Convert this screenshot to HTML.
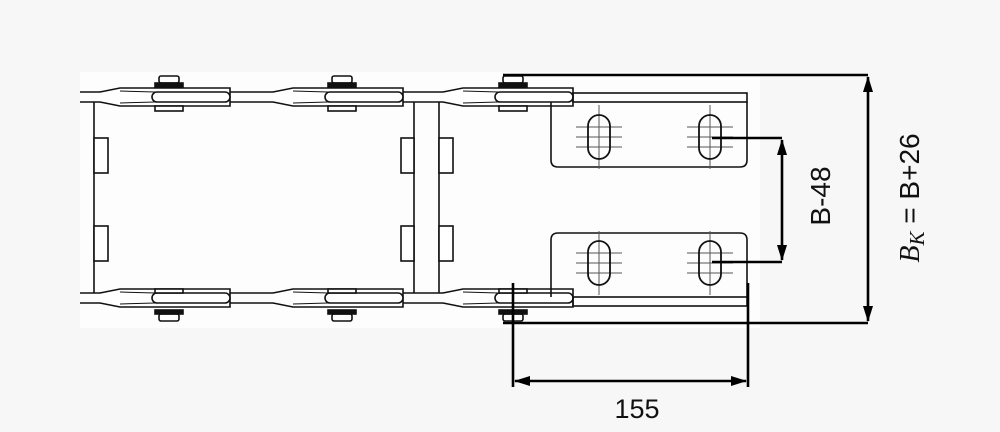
<!DOCTYPE html>
<html><head><meta charset="utf-8"><style>
html,body{margin:0;padding:0;background:#f7f7f7;}
svg{display:block;}
text{font-family:"Liberation Sans","DejaVu Sans",sans-serif;fill:#111;}
</style></head><body>
<svg width="1000" height="432" viewBox="0 0 1000 432" xmlns="http://www.w3.org/2000/svg">
<defs>
<g id="link" fill="none" stroke="#111" stroke-width="1.6">
  <path d="M0,-5 L20,-9 L130,-9 L130,9 L20,9 L0,5" fill="#fff"/>
  <path d="M20,-6 L55,-5 M20,6 L55,5" stroke-width="1"/>
  <rect x="52" y="-5" width="78" height="10" rx="5" fill="#fff"/>
</g>
<g id="slot" fill="none" stroke="#111">
  <path d="M-23,-10 H23 M-23,0 H23 M-23,10 H23 M0,-32 V32" stroke="#555" stroke-width="1"/>
  <rect x="-11" y="-22" width="22" height="44" rx="11" stroke-width="1.8" fill="none"/>
</g>
</defs>
<rect x="80" y="72" width="680" height="256" fill="#fdfdfd"/>
<g stroke="#111" fill="none" stroke-width="1.6">
  <line x1="80" y1="92" x2="573" y2="92"/><line x1="80" y1="102" x2="573" y2="102"/>
  <line x1="80" y1="293" x2="573" y2="293"/><line x1="80" y1="303" x2="573" y2="303"/>
  <line x1="94" y1="102" x2="94" y2="293"/>
  <line x1="414" y1="102" x2="414" y2="293"/>
  <line x1="439" y1="102" x2="439" y2="293"/>
  <rect x="94" y="138" width="14" height="35" fill="#fff"/><rect x="94" y="226" width="14" height="35" fill="#fff"/>
  <rect x="401" y="138" width="13" height="35" fill="#fff"/><rect x="401" y="226" width="13" height="35" fill="#fff"/>
  <rect x="439" y="138" width="14" height="35" fill="#fff"/><rect x="439" y="226" width="14" height="35" fill="#fff"/>
</g>
<g transform="translate(100,97)"><use href="#link"/></g>
<g transform="translate(273,97)"><use href="#link"/></g>
<g transform="translate(443,97)"><use href="#link"/></g>
<g transform="translate(100,298)"><use href="#link"/></g>
<g transform="translate(273,298)"><use href="#link"/></g>
<g transform="translate(443,298)"><use href="#link"/></g>
<g stroke="#111" stroke-width="1.6" fill="#fff">
  <rect x="159" y="76" width="20" height="7" rx="2"/><rect x="155" y="83" width="28" height="4" fill="#111"/>
  <rect x="332" y="76" width="20" height="7" rx="2"/><rect x="328" y="83" width="28" height="4" fill="#111"/>
  <rect x="503" y="76" width="20" height="7" rx="2"/><rect x="499" y="83" width="28" height="4" fill="#111"/>
  <rect x="155" y="106" width="28" height="5"/><rect x="328" y="106" width="28" height="5"/><rect x="499" y="106" width="28" height="5"/>
  <rect x="159" y="314" width="20" height="7" rx="2"/><rect x="155" y="310" width="28" height="4" fill="#111"/>
  <rect x="332" y="314" width="20" height="7" rx="2"/><rect x="328" y="310" width="28" height="4" fill="#111"/>
  <rect x="503" y="314" width="20" height="7" rx="2"/><rect x="499" y="310" width="28" height="4" fill="#111"/>
  <rect x="155" y="289" width="28" height="4"/><rect x="328" y="289" width="28" height="4"/><rect x="499" y="289" width="28" height="4"/>
</g>
<g stroke="#111" stroke-width="1.6" fill="none">
  <rect x="573" y="93" width="174" height="9"/>
  <path d="M551,102 V160 Q551,167 558,167 H740 Q747,167 747,160 V102"/>
  <rect x="573" y="297" width="174" height="9"/>
  <path d="M551,297 V240 Q551,233 558,233 H740 Q747,233 747,240 V297"/>
</g>
<g transform="translate(599,137)"><use href="#slot"/></g>
<g transform="translate(710,137)"><use href="#slot"/></g>
<g transform="translate(599,263)"><use href="#slot"/></g>
<g transform="translate(710,263)"><use href="#slot"/></g>
<g stroke="#000" stroke-width="2.6" fill="none">
  <line x1="503" y1="75" x2="868" y2="75"/>
  <line x1="503" y1="323" x2="868" y2="323"/>
  <line x1="868" y1="77" x2="868" y2="321"/>
  <line x1="712" y1="138" x2="782" y2="138"/>
  <line x1="712" y1="262" x2="782" y2="262"/>
  <line x1="782" y1="140" x2="782" y2="260"/>
  <line x1="513" y1="283" x2="513" y2="387"/>
  <line x1="748" y1="283" x2="748" y2="387"/>
  <line x1="515" y1="381" x2="746" y2="381"/>
</g>
<g fill="#000">
  <polygon points="868,76 863,92 873,92"/><polygon points="868,322 863,306 873,306"/>
  <polygon points="782,139 777,155 787,155"/><polygon points="782,261 777,245 787,245"/>
  <polygon points="514,381 530,376 530,386"/><polygon points="747,381 731,376 731,386"/>
</g>
<text x="637" y="418" font-size="27" text-anchor="middle">155</text>
<text transform="translate(830,196) rotate(-90)" font-size="28" text-anchor="middle">B-48</text>
<text transform="translate(919,198) rotate(-90)" font-size="28" text-anchor="middle"><tspan font-family="Liberation Serif" font-style="italic">B</tspan><tspan font-family="Liberation Serif" font-style="italic" font-size="21" dy="5">K</tspan><tspan dy="-5"> = B+26</tspan></text>
</svg>
</body></html>
